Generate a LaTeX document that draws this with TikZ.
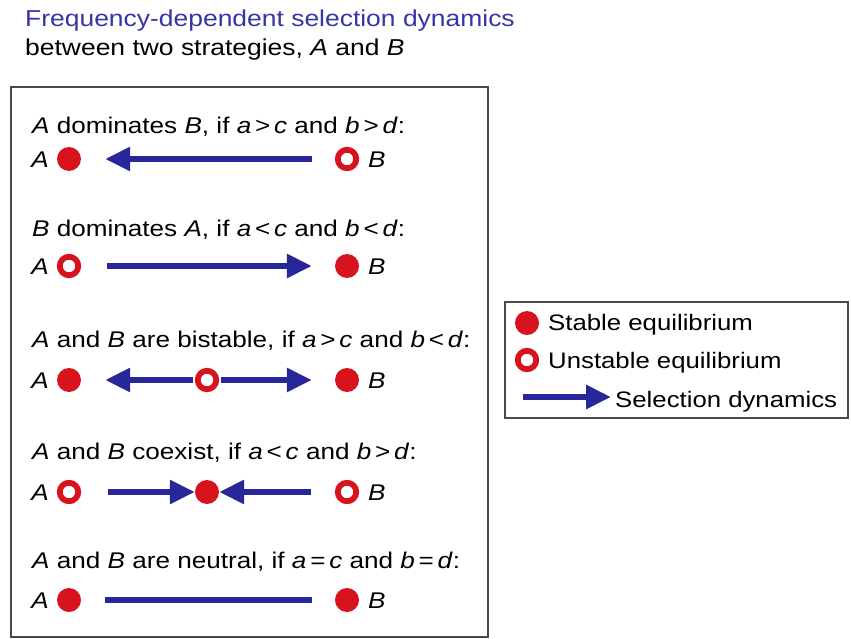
\documentclass[tikz,border=0pt]{standalone}
\usepackage{fontspec}
\setmainfont{Liberation Sans}[FakeStretch=1.15]
\usetikzlibrary{arrows.meta}
\definecolor{dotred}{HTML}{D7141E}
\definecolor{arrblue}{HTML}{27279A}
\definecolor{titleblue}{HTML}{3535A8}
\definecolor{boxgray}{HTML}{4A4A4A}
\begin{document}
\begin{tikzpicture}[x=1pt,y=-1pt,
  txt/.style={inner sep=0pt,text height=16.3pt,text depth=0pt,font=\fontsize{22.7}{26}\selectfont},
  ttl/.style={inner sep=0pt,anchor=west,text height=16.5pt,text depth=0pt,font=\fontsize{23}{27}\selectfont},
  lgd/.style={inner sep=0pt,anchor=west,text height=16.1pt,text depth=0pt,font=\fontsize{22.4}{26}\selectfont},
  lbl/.style={txt,anchor=west},
  stab/.style={circle,fill=dotred,minimum size=24,inner sep=0pt},
  unst/.style={circle,draw=dotred,line width=5.8,fill=white,minimum size=18.5,inner sep=0pt},
  sel/.style={draw=arrblue,line width=6,-{Triangle[length=25,width=23]}},
  plain/.style={draw=arrblue,line width=6},
  frame/.style={draw=boxgray,line width=1.2}]
\useasboundingbox (0,0) rectangle (851,639);
% title
\node[ttl,text=titleblue] (t1) at (25,18) {Frequency-dependent selection dynamics};
\node[ttl] (t2) at (25,47) {between two strategies, \textit{A} and \textit{B}};
% frames
\draw[frame] (11,87) rectangle (488,637);
\draw[frame] (505,302) rectangle (848,418);
% row 1
\node[lbl] (l1) at (32,125) {\textit{A} dominates \textit{B}, if \textit{a}\,>\,\textit{c} and \textit{b}\,>\,\textit{d}:};
\node[stab] (a1) at (69,159) {};
\node[unst] (b1) at (347,159) {};
\node[txt,anchor=east] (ta1) at (49,159) {\textit{A}};
\node[txt,anchor=west] (tb1) at (368,159) {\textit{B}};
\draw[sel,shorten <=23,shorten >=24] (b1) -- (a1);
% row 2
\node[lbl] (l2) at (32,228) {\textit{B} dominates \textit{A}, if \textit{a}\,<\,\textit{c} and \textit{b}\,<\,\textit{d}:};
\node[unst] (a2) at (69,266) {};
\node[stab] (b2) at (347,266) {};
\node[txt,anchor=east] (ta2) at (49,266) {\textit{A}};
\node[txt,anchor=west] (tb2) at (368,266) {\textit{B}};
\draw[sel,shorten <=26,shorten >=23] (a2) -- (b2);
% row 3
\node[lbl] (l3) at (32,339) {\textit{A} and \textit{B} are bistable, if \textit{a}\,>\,\textit{c} and \textit{b}\,<\,\textit{d}:};
\node[stab] (a3) at (69,380) {};
\node[unst] (m3) at (207,380) {};
\node[stab] (b3) at (347,380) {};
\node[txt,anchor=east] (ta3) at (49,380) {\textit{A}};
\node[txt,anchor=west] (tb3) at (368,380) {\textit{B}};
\draw[sel,shorten <=2,shorten >=24] (m3) -- (a3);
\draw[sel,shorten <=2,shorten >=23] (m3) -- (b3);
% row 4
\node[lbl] (l4) at (32,451) {\textit{A} and \textit{B} coexist, if \textit{a}\,<\,\textit{c} and \textit{b}\,>\,\textit{d}:};
\node[unst] (a4) at (69,492) {};
\node[stab] (m4) at (207,492) {};
\node[unst] (b4) at (347,492) {};
\node[txt,anchor=east] (ta4) at (49,492) {\textit{A}};
\node[txt,anchor=west] (tb4) at (368,492) {\textit{B}};
\draw[sel,shorten <=27] (a4) -- (m4);
\draw[sel,shorten <=24] (b4) -- (m4);
% row 5
\node[lbl] (l5) at (32,560) {\textit{A} and \textit{B} are neutral, if \textit{a}\,=\,\textit{c} and \textit{b}\,=\,\textit{d}:};
\node[stab] (a5) at (69,600) {};
\node[stab] (b5) at (347,600) {};
\node[txt,anchor=east] (ta5) at (49,600) {\textit{A}};
\node[txt,anchor=west] (tb5) at (368,600) {\textit{B}};
\draw[plain,shorten <=24,shorten >=23] (a5) -- (b5);
% legend
\node[stab] (ls) at (527,323) {};
\node[lgd] (lst) at (548,322) {Stable equilibrium};
\node[unst] (lu) at (527,360) {};
\node[lgd] (lut) at (548,360) {Unstable equilibrium};
\coordinate (la0) at (523,397);
\node[lgd] (lat) at (615,399) {Selection dynamics};
\draw[sel,shorten >=4] (la0) -- (la0 -| lat.west);
\end{tikzpicture}
\end{document}
